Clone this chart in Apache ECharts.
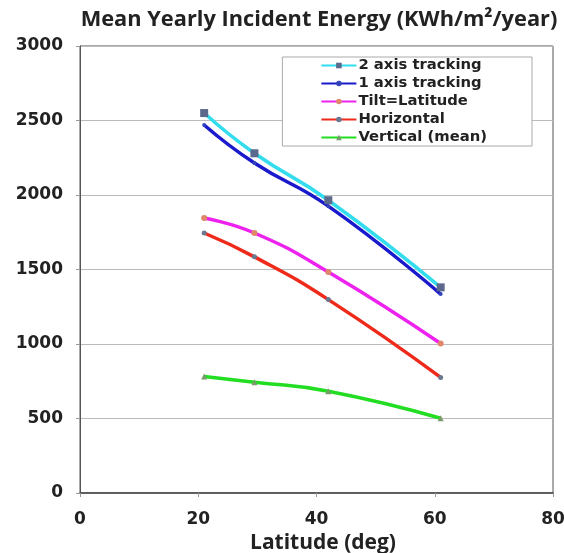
<!DOCTYPE html>
<html><head><meta charset="utf-8">
<script src="https://cdn.jsdelivr.net/npm/echarts@6/dist/echarts.min.js"></script>
<style>html,body{margin:0;padding:0;background:#fff}#c{width:564px;height:553px}</style>
</head><body><div id="c"></div>
<script>
const latitudes = [21, 29.5, 42, 61];
const twoAxis = [2550, 2280, 1965, 1380];
const oneAxis = [2470, 2215, 1925, 1335];
const tiltLat = [1845, 1745, 1483, 1003];
const horizontal = [1745, 1585, 1298, 776];
const vertical = [782, 744, 683, 502];
const yTicks = [0, 500, 1000, 1500, 2000, 2500, 3000];
const xTicks = [0, 20, 40, 60, 80];

const pairs = a => latitudes.map((x, i) => [x, a[i]]);
function s(name, data, color, mcolor, sym, ssize, z) {
  return {
    name, type: 'line', smooth: 0.5, data: pairs(data), z,
    symbol: sym, symbolSize: ssize,
    lineStyle: { color, width: 3.5 },
    itemStyle: { color: mcolor, borderWidth: 0 },
    emphasis: { disabled: true }
  };
}
const chart = echarts.init(document.getElementById('c'), null, { renderer: 'canvas' });
chart.setOption({
  animation: false,
  backgroundColor: '#fff',
  title: {
    text: 'Mean Yearly Incident Energy (KWh/m²/year)',
    left: 314, top: 4, textAlign: 'center',
    textStyle: { fontFamily: 'Open Sans', fontSize: 21.8, fontWeight: 700, color: '#222' }
  },
  legend: {
    right: 32, top: 57, orient: 'vertical', itemGap: 3,
    itemWidth: 35, itemHeight: 7,
    backgroundColor: '#fff', borderColor: '#aaa', borderWidth: 1,
    padding: [1, 45, 1, 38],
    textStyle: { fontFamily: 'DejaVu Sans', fontWeight: 'bold', fontSize: 14.8, lineHeight: 15, color: '#222', padding: [0, 0, 0, -3] },
    data: ['2 axis tracking', '1 axis tracking', 'Tilt=Latitude', 'Horizontal', 'Vertical (mean)']
  },
  grid: { left: 80, right: 11, top: 46, bottom: 60, show: true, borderColor: '#555', borderWidth: 1, outerBoundsMode: 'none', containLabel: false },
  xAxis: {
    type: 'value', min: 0, max: 80, interval: 20,
    name: 'Latitude (deg)', nameLocation: 'middle', nameGap: 31,
    nameTextStyle: { fontFamily: 'Open Sans', fontSize: 21, fontWeight: 700, color: '#222', lineHeight: 21, padding: [0, 0, 0, 13] },
    axisLine: { lineStyle: { color: '#444', width: 1.5 } },
    axisTick: { show: true, length: 4, inside: false, lineStyle: { color: '#999' } },
    axisLabel: { fontFamily: 'DejaVu Sans', fontWeight: 'bold', fontSize: 17, color: '#222', margin: 18 },
    splitLine: { show: false }
  },
  yAxis: {
    type: 'value', min: 0, max: 3000, interval: 500,
    axisLine: { show: true, lineStyle: { color: '#555' } },
    axisTick: { show: true, length: 4, lineStyle: { color: '#999' } },
    axisLabel: { fontFamily: 'DejaVu Sans', fontWeight: 'bold', fontSize: 17, color: '#222', margin: 17, formatter: v => String(v) },
    splitLine: { lineStyle: { color: '#bbb', width: 1 } }
  },
  series: [
    s('2 axis tracking', twoAxis, '#33ddee', '#5b6a8c', 'rect', 8, 6),
    s('1 axis tracking', oneAxis, '#1a1acc', '#3344bb', 'circle', 4, 5),
    s('Tilt=Latitude', tiltLat, '#ee22ee', '#e0886a', 'circle', 6, 4),
    s('Horizontal', horizontal, '#ee2a1a', '#6a7890', 'circle', 5, 3),
    s('Vertical (mean)', vertical, '#22dd22', '#7a9a6a', 'triangle', 6, 2)
  ]
});
</script></body></html>
